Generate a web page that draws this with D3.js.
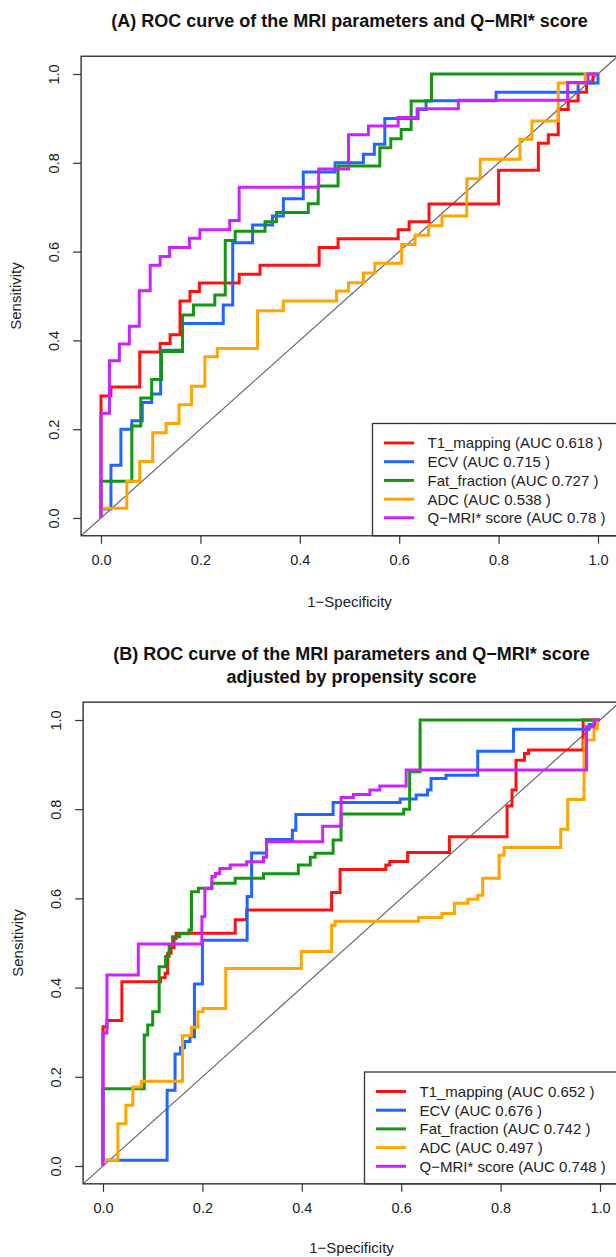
<!DOCTYPE html>
<html>
<head>
<meta charset="utf-8">
<script src="https://cdn.jsdelivr.net/npm/d3@7"></script>
<style>
  body { margin: 0; background: #fff; }
  svg { display: block; font-family: "Liberation Sans", Arial, Helvetica, sans-serif; }
</style>
</head>
<body>
<div class="container"></div>
<script>
// ROC points (1-specificity, sensitivity)
const seriesNames = ["T1_mapping", "ECV", "Fat_fraction", "ADC", "Q\u2212MRI* score"];
const colors = ["#ff1010", "#1f66ff", "#149614", "#ffa500", "#cc22ff"];
const aucA = ["0.618", "0.715", "0.727", "0.538", "0.78"];
const aucB = ["0.652", "0.676", "0.742", "0.497", "0.748"];
const ticks = [0, 0.2, 0.4, 0.6, 0.8, 1.0];

const t1A = [[0,0],[0,0.275],[0.02,0.275],[0.02,0.295],[0.078,0.295],[0.078,0.374],[0.119,0.374],[0.119,0.393],[0.139,0.393],[0.139,0.413],[0.159,0.413],[0.159,0.489],[0.179,0.489],[0.179,0.51],[0.198,0.51],[0.198,0.529],[0.278,0.529],[0.278,0.549],[0.32,0.549],[0.32,0.569],[0.439,0.569],[0.439,0.609],[0.477,0.609],[0.477,0.629],[0.598,0.629],[0.598,0.649],[0.62,0.649],[0.62,0.667],[0.66,0.667],[0.66,0.707],[0.8,0.707],[0.8,0.783],[0.88,0.783],[0.88,0.844],[0.9,0.844],[0.9,0.863],[0.92,0.863],[0.92,0.92],[0.94,0.92],[0.94,0.939],[0.96,0.939],[0.96,0.959],[0.977,0.959],[0.977,0.98],[0.99,0.98],[0.99,1],[1,1]];
const ecvA = [[0,0],[0,0.02],[0.02,0.02],[0.02,0.119],[0.04,0.119],[0.04,0.2],[0.062,0.2],[0.062,0.219],[0.083,0.219],[0.083,0.26],[0.102,0.26],[0.102,0.279],[0.12,0.279],[0.12,0.378],[0.164,0.378],[0.164,0.438],[0.246,0.438],[0.246,0.48],[0.265,0.48],[0.265,0.62],[0.305,0.62],[0.305,0.66],[0.345,0.66],[0.345,0.68],[0.367,0.68],[0.367,0.719],[0.407,0.719],[0.407,0.779],[0.471,0.779],[0.471,0.8],[0.528,0.8],[0.528,0.819],[0.55,0.819],[0.55,0.842],[0.571,0.842],[0.571,0.9],[0.638,0.9],[0.638,0.92],[0.654,0.92],[0.654,0.94],[0.795,0.94],[0.795,0.959],[0.96,0.959],[0.96,0.98],[1,0.98],[1,1]];
const fatA = [[0,0],[0,0.083],[0.062,0.083],[0.062,0.207],[0.08,0.207],[0.08,0.27],[0.102,0.27],[0.102,0.312],[0.122,0.312],[0.122,0.375],[0.164,0.375],[0.164,0.457],[0.186,0.457],[0.186,0.48],[0.229,0.48],[0.229,0.502],[0.25,0.502],[0.25,0.625],[0.27,0.625],[0.27,0.646],[0.33,0.646],[0.33,0.667],[0.353,0.667],[0.353,0.688],[0.417,0.688],[0.417,0.708],[0.437,0.708],[0.437,0.748],[0.477,0.748],[0.477,0.793],[0.561,0.793],[0.561,0.834],[0.583,0.834],[0.583,0.854],[0.604,0.854],[0.604,0.875],[0.624,0.875],[0.624,0.939],[0.665,0.939],[0.665,1],[1,1]];
const adcA = [[0,0],[0,0.022],[0.052,0.022],[0.052,0.083],[0.078,0.083],[0.078,0.127],[0.104,0.127],[0.104,0.192],[0.131,0.192],[0.131,0.213],[0.157,0.213],[0.157,0.255],[0.182,0.255],[0.182,0.297],[0.209,0.297],[0.209,0.363],[0.234,0.363],[0.234,0.382],[0.315,0.382],[0.315,0.467],[0.367,0.467],[0.367,0.489],[0.474,0.489],[0.474,0.511],[0.498,0.511],[0.498,0.53],[0.528,0.53],[0.528,0.552],[0.551,0.552],[0.551,0.574],[0.605,0.574],[0.605,0.616],[0.632,0.616],[0.632,0.637],[0.659,0.637],[0.659,0.658],[0.686,0.658],[0.686,0.68],[0.736,0.68],[0.736,0.764],[0.763,0.764],[0.763,0.808],[0.843,0.808],[0.843,0.853],[0.867,0.853],[0.867,0.894],[0.92,0.894],[0.92,0.98],[0.974,0.98],[0.974,1],[1,1]];
const qmriA = [[0,0],[0,0.236],[0.017,0.236],[0.017,0.354],[0.037,0.354],[0.037,0.392],[0.057,0.392],[0.057,0.432],[0.077,0.432],[0.077,0.512],[0.099,0.512],[0.099,0.569],[0.119,0.569],[0.119,0.589],[0.138,0.589],[0.138,0.609],[0.178,0.609],[0.178,0.63],[0.199,0.63],[0.199,0.649],[0.259,0.649],[0.259,0.67],[0.278,0.67],[0.278,0.745],[0.438,0.745],[0.438,0.786],[0.498,0.786],[0.498,0.863],[0.538,0.863],[0.538,0.883],[0.598,0.883],[0.598,0.902],[0.636,0.902],[0.636,0.922],[0.719,0.922],[0.719,0.941],[0.939,0.941],[0.939,0.981],[0.98,0.981],[0.98,1],[1,1]];

const t1B = [[0,0],[0,0.312],[0.008,0.312],[0.008,0.326],[0.038,0.326],[0.038,0.413],[0.116,0.413],[0.116,0.422],[0.125,0.422],[0.125,0.432],[0.13,0.432],[0.13,0.477],[0.137,0.477],[0.137,0.49],[0.143,0.49],[0.143,0.51],[0.147,0.51],[0.147,0.522],[0.266,0.522],[0.266,0.552],[0.289,0.552],[0.289,0.574],[0.46,0.574],[0.46,0.613],[0.477,0.613],[0.477,0.665],[0.569,0.665],[0.569,0.675],[0.577,0.675],[0.577,0.683],[0.613,0.683],[0.613,0.703],[0.697,0.703],[0.697,0.738],[0.813,0.738],[0.813,0.807],[0.823,0.807],[0.823,0.843],[0.831,0.843],[0.831,0.91],[0.848,0.91],[0.848,0.925],[0.856,0.925],[0.856,0.933],[0.966,0.933],[0.966,1],[1,1]];
const ecvB = [[0,0],[0,0.013],[0.129,0.013],[0.129,0.17],[0.145,0.17],[0.145,0.251],[0.156,0.251],[0.156,0.265],[0.164,0.265],[0.164,0.279],[0.175,0.279],[0.175,0.29],[0.184,0.29],[0.184,0.408],[0.2,0.408],[0.2,0.506],[0.29,0.506],[0.29,0.604],[0.299,0.604],[0.299,0.702],[0.329,0.702],[0.329,0.732],[0.381,0.732],[0.381,0.753],[0.388,0.753],[0.388,0.788],[0.463,0.788],[0.463,0.815],[0.598,0.815],[0.598,0.823],[0.63,0.823],[0.63,0.832],[0.653,0.832],[0.653,0.843],[0.66,0.843],[0.66,0.869],[0.69,0.869],[0.69,0.876],[0.754,0.876],[0.754,0.93],[0.826,0.93],[0.826,0.979],[0.978,0.979],[0.978,0.99],[0.99,0.99],[0.99,1],[1,1]];
const fatB = [[0,0],[0,0.173],[0.083,0.173],[0.083,0.294],[0.09,0.294],[0.09,0.316],[0.1,0.316],[0.1,0.346],[0.113,0.346],[0.113,0.447],[0.126,0.447],[0.126,0.47],[0.133,0.47],[0.133,0.496],[0.14,0.496],[0.14,0.514],[0.154,0.514],[0.154,0.521],[0.173,0.521],[0.173,0.529],[0.178,0.529],[0.178,0.615],[0.192,0.615],[0.192,0.623],[0.219,0.623],[0.219,0.634],[0.266,0.634],[0.266,0.645],[0.323,0.645],[0.323,0.655],[0.393,0.655],[0.393,0.675],[0.417,0.675],[0.417,0.692],[0.427,0.692],[0.427,0.701],[0.463,0.701],[0.463,0.731],[0.479,0.731],[0.479,0.789],[0.605,0.789],[0.605,0.8],[0.617,0.8],[0.617,0.884],[0.638,0.884],[0.638,1],[1,1]];
const adcB = [[0,0],[0,0.013],[0.03,0.013],[0.03,0.095],[0.046,0.095],[0.046,0.136],[0.06,0.136],[0.06,0.177],[0.077,0.177],[0.077,0.19],[0.16,0.19],[0.16,0.292],[0.178,0.292],[0.178,0.311],[0.191,0.311],[0.191,0.346],[0.201,0.346],[0.201,0.353],[0.247,0.353],[0.247,0.443],[0.399,0.443],[0.399,0.481],[0.46,0.481],[0.46,0.54],[0.467,0.54],[0.467,0.549],[0.635,0.549],[0.635,0.557],[0.682,0.557],[0.682,0.566],[0.707,0.566],[0.707,0.589],[0.734,0.589],[0.734,0.598],[0.754,0.598],[0.754,0.607],[0.764,0.607],[0.764,0.645],[0.797,0.645],[0.797,0.697],[0.807,0.697],[0.807,0.714],[0.921,0.714],[0.921,0.755],[0.935,0.755],[0.935,0.822],[0.968,0.822],[0.968,0.955],[0.988,0.955],[0.988,0.98],[0.995,0.98],[0.995,1],[1,1]];
const qmriB = [[0,0],[0,0.298],[0.008,0.298],[0.008,0.428],[0.071,0.428],[0.071,0.498],[0.199,0.498],[0.199,0.559],[0.205,0.559],[0.205,0.623],[0.219,0.623],[0.219,0.649],[0.226,0.649],[0.226,0.656],[0.235,0.656],[0.235,0.667],[0.256,0.667],[0.256,0.675],[0.289,0.675],[0.289,0.682],[0.323,0.682],[0.323,0.692],[0.329,0.692],[0.329,0.727],[0.442,0.727],[0.442,0.762],[0.479,0.762],[0.479,0.826],[0.504,0.826],[0.504,0.833],[0.537,0.833],[0.537,0.843],[0.557,0.843],[0.557,0.852],[0.61,0.852],[0.61,0.888],[0.973,0.888],[0.973,0.985],[0.988,0.985],[0.988,1],[1,1]];

const width = 616, height = 1257;
const svg = d3.select('.container')
    .append('svg')
    .attr('width', width)
    .attr('height', height);

const drawPanel = (opt) => {
    const x = d3.scaleLinear().domain([0, 1]).range([opt.x0, opt.x1]),
        y = d3.scaleLinear().domain([0, 1]).range([opt.y0, opt.y1]);
    const left = x(-0.04), right = x(1.04), top = y(1.04), bottom = y(-0.04);
    const g = svg.append('g');

    g.append('clipPath').attr('id', opt.id)
        .append('rect')
        .attr('x', left).attr('y', top)
        .attr('width', right - left).attr('height', bottom - top);

    // title
    opt.title.forEach((t, i) => {
        g.append('text')
            .attr('x', (left + right) / 2)
            .attr('y', opt.titleY + i * 22.5)
            .attr('text-anchor', 'middle')
            .attr('font-weight', 'bold')
            .attr('font-size', 18)
            .attr('fill', '#111')
            .text(t);
    });

    // axes
    const xAxis = d3.axisBottom(x).tickValues(ticks).tickFormat(d3.format('.1f')).tickSize(8).tickPadding(11);
    const gx = g.append('g').attr('transform', `translate(0,${bottom})`).call(xAxis);
    const yAxis = d3.axisLeft(y).tickValues(ticks).tickFormat(d3.format('.1f')).tickSize(8);
    const gy = g.append('g').attr('transform', `translate(${left},0)`).call(yAxis);
    [gx, gy].forEach(a => {
        a.select('.domain').remove();
        a.selectAll('line').attr('stroke', '#333').attr('stroke-width', 1.2);
        a.selectAll('text').attr('font-size', 14.5).attr('fill', '#222')
            .attr('font-family', '"Liberation Sans", Arial, sans-serif');
    });
    // R style: y tick labels turned parallel to the axis
    gy.selectAll('text')
        .attr('x', 0).attr('y', 0).attr('dy', 0)
        .attr('transform', 'translate(-22,0) rotate(-90)')
        .attr('text-anchor', 'middle');

    g.append('text')
        .attr('x', (left + right) / 2).attr('y', opt.xLabelY)
        .attr('text-anchor', 'middle').attr('font-size', 15).attr('fill', '#222')
        .text('1\u2212Specificity');
    g.append('text')
        .attr('transform', `translate(${opt.yLabelX},${(top + bottom) / 2}) rotate(-90)`)
        .attr('text-anchor', 'middle').attr('font-size', 15).attr('fill', '#222')
        .text('Sensitivity');

    // reference diagonal
    g.append('line')
        .attr('clip-path', `url(#${opt.id})`)
        .attr('x1', x(-0.04)).attr('y1', y(-0.04))
        .attr('x2', x(1.04)).attr('y2', y(1.04))
        .attr('stroke', '#666').attr('stroke-width', 1.2);

    const line = d3.line().x(d => x(d[0])).y(d => y(d[1]));
    g.selectAll('.roc')
        .data(opt.curves)
        .enter()
        .append('path')
        .attr('class', 'roc')
        .attr('d', line)
        .attr('fill', 'none')
        .attr('stroke', (d, i) => colors[i])
        .attr('stroke-width', 3)
        .attr('stroke-linejoin', 'miter');

    // legend
    const lg = g.append('g');
    lg.append('rect')
        .attr('x', opt.legX).attr('y', opt.legY)
        .attr('width', right - opt.legX).attr('height', bottom - opt.legY)
        .attr('fill', '#fff').attr('stroke', '#333').attr('stroke-width', 1.3);
    seriesNames.forEach((s, i) => {
        const yy = opt.legY + 19.5 + i * 18.7;
        lg.append('line')
            .attr('x1', opt.legX + 11.5).attr('x2', opt.legX + 41.5)
            .attr('y1', yy).attr('y2', yy)
            .attr('stroke', colors[i]).attr('stroke-width', 3);
        lg.append('text')
            .attr('x', opt.legX + 55).attr('y', yy).attr('dy', '0.36em')
            .attr('font-size', 15).attr('fill', '#222')
            .text(`${s} (AUC ${opt.auc[i]} )`);
    });

    // box
    g.append('rect')
        .attr('x', left).attr('y', top)
        .attr('width', right - left).attr('height', bottom - top)
        .attr('fill', 'none').attr('stroke', '#333').attr('stroke-width', 1.4);
};

drawPanel({
    id: 'clipA', x0: 101, x1: 598, y0: 518, y1: 74,
    title: ['(A) ROC curve of the MRI parameters and Q\u2212MRI* score'], titleY: 27,
    xLabelY: 607, yLabelX: 21,
    legX: 372.5, legY: 423.5,
    auc: aucA,
    curves: [t1A, ecvA, fatA, adcA, qmriA]
});

drawPanel({
    id: 'clipB', x0: 103, x1: 600, y0: 1166, y1: 720,
    title: ['(B) ROC curve of the MRI parameters and Q\u2212MRI* score', 'adjusted by propensity score'], titleY: 660,
    xLabelY: 1253, yLabelX: 23,
    legX: 364.5, legY: 1072,
    auc: aucB,
    curves: [t1B, ecvB, fatB, adcB, qmriB]
});
</script>
</body>
</html>
